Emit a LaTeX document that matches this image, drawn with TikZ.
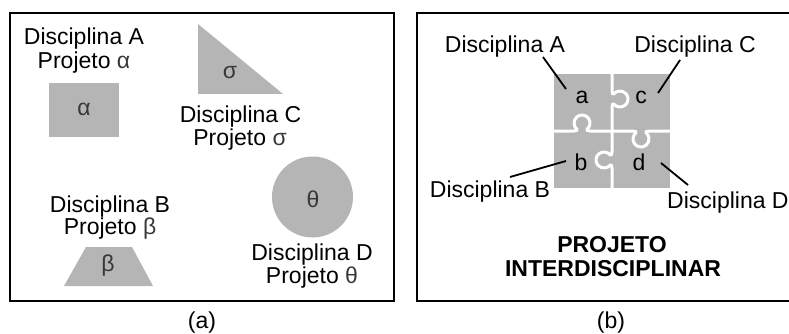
\documentclass[tikz,border=0pt]{standalone}
\usepackage{fontspec}
\setmainfont{Liberation Sans}
\definecolor{pg}{gray}{0.71}
\definecolor{gk}{gray}{0.22}
\newcommand{\knobpath}[2]{(#1,0) -- (-8,0) .. controls (-5.5,0) and (-4.22,1.1) .. (-5.14,1.87) arc[start angle=230,end angle=-50,radius=8] .. controls (4.22,1.1) and (5.5,0) .. (8,0) -- (#2,0)}
\begin{document}
\begin{tikzpicture}[x=1pt,y=-1pt,
  txt/.style={inner sep=0pt, anchor=base, font=\fontsize{23}{27}\selectfont},
  bold/.style={txt, font=\fontsize{23}{27}\selectfont\bfseries},
  frame/.style={draw=black, line width=2pt},
  shp/.style={fill=pg},
  cut/.style={draw=white, line width=3pt},
  lead/.style={draw=black, line width=1.8pt},
  gr/.style={text=gk}]
\useasboundingbox (0,0) rectangle (789,334);
% frames
\draw[frame] (10,13) rectangle (394,301);
\draw[frame] (417,13) rectangle (800,301);
% panel (a) shapes
\fill[shp] (49,83) rectangle (119,137);
\fill[shp] (198,24) -- (198,94) -- (283,94) -- cycle;
\fill[shp] (86,247) -- (132,247) -- (153,286) -- (64,286) -- cycle;
\fill[shp] (312.5,197) circle[radius=40.5];
\node[txt,gr] (ga) at (84,116) {α};
\node[txt,gr] (gs) at (230,79) {σ};
\node[txt,gr] (gb) at (108,271) {β};
\node[txt,gr] (gt) at (313,207) {θ};
% panel (a) labels
\node[txt] (dA1) at (84,45) {Disciplina A};
\node[txt] (pA1) at (84,69) {Projeto \textcolor{gk}{α}};
\node[txt] (dC1) at (240.5,123) {Disciplina C};
\node[txt] (pC1) at (240,146) {Projeto \textcolor{gk}{σ}};
\node[txt] (dB1) at (110,212) {Disciplina B};
\node[txt] (pB1) at (110,234) {Projeto \textcolor{gk}{β}};
\node[txt] (dD1) at (312,260) {Disciplina D};
\node[txt] (pD1) at (312,283) {Projeto \textcolor{gk}{θ}};
\node[txt] (capa) at (202,328) {(a)};
% panel (b) puzzle
\fill[shp] (554,74) rectangle (670,188);
\begin{scope}[shift={(612,99)},rotate=90]
  \draw[cut] \knobpath{-33}{27};
\end{scope}
\begin{scope}[shift={(641,131)}]
  \draw[cut] \knobpath{-30}{31};
\end{scope}
\begin{scope}[shift={(582,131)},rotate=180]
  \draw[cut] \knobpath{-31}{30};
\end{scope}
\begin{scope}[shift={(612,160)},rotate=-90]
  \draw[cut] \knobpath{-30}{30};
\end{scope}
\node[txt] (la) at (582,103) {a};
\node[txt] (lc) at (641,103) {c};
\node[txt] (lb) at (581,170) {b};
\node[txt] (ld) at (639,170) {d};
% panel (b) labels
\node[txt] (dA2) at (505,53) {Disciplina A};
\node[txt] (dC2) at (695,53) {Disciplina C};
\node[txt] (dB2) at (490,197) {Disciplina B};
\node[txt,anchor=base west] (dD2) at (667,208) {Disciplina D};
\node[bold] (pr) at (612,252) {PROJETO};
\node[bold] (inter) at (613,276) {INTERDISCIPLINAR};
\node[txt] (capb) at (611,328) {(b)};
% leaders
\coordinate (eA1) at (543,57); \coordinate (eA2) at (566,89);
\coordinate (eC1) at (680,60); \coordinate (eC2) at (658,93);
\coordinate (eB1) at (510,177); \coordinate (eB2) at (566,161);
\coordinate (eD1) at (661,163); \coordinate (eD2) at (688,185);
\draw[lead] (eA1) -- (eA2);
\draw[lead] (eC1) -- (eC2);
\draw[lead] (eB1) -- (eB2);
\draw[lead] (eD1) -- (eD2);
\end{tikzpicture}
\end{document}
